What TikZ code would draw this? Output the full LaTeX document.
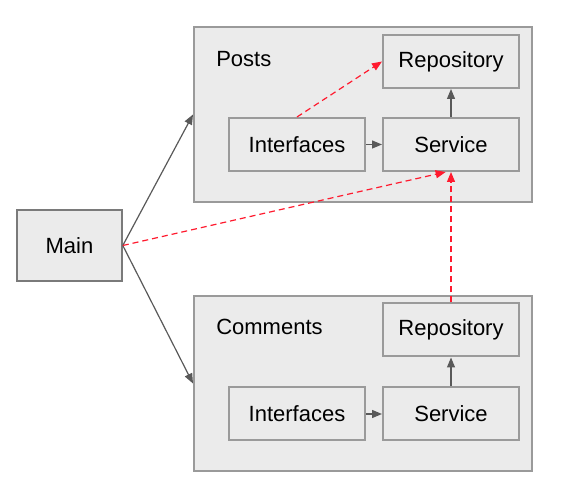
\documentclass[tikz,border=0pt]{standalone}
\usepackage{fontspec}
\setmainfont{Liberation Sans}
\usetikzlibrary{arrows.meta,calc}
\definecolor{boxfill}{HTML}{EBEBEB}
\definecolor{boxline}{HTML}{9A9A9A}
\definecolor{arrowc}{HTML}{595959}
\definecolor{redc}{HTML}{FF1A2E}
\tikzset{
  px/.style={x=0.75pt,y=-0.75pt},
  group/.style={draw=boxline,fill=boxfill,line width=1.5pt,minimum width=253.5pt,minimum height=131.25pt,inner sep=0pt},
  comp/.style={draw=boxline,fill=boxfill,line width=1.5pt,minimum width=102pt,minimum height=39.75pt,inner sep=0pt,font=\fontsize{16.5}{19}\selectfont},
  mainbox/.style={draw=arrowc!80,fill=boxfill,line width=1.2pt,minimum width=78.75pt,minimum height=53.25pt,inner sep=0pt,font=\fontsize{16.5}{19}\selectfont},
  glabel/.style={anchor=base west,inner sep=0pt,font=\fontsize{16.5}{19}\selectfont},
  solidarrow/.style={draw=arrowc,line width=0.9pt,-{Triangle[length=7.5pt,width=6pt]}},
  redarrow/.style={draw=redc,line width=0.9pt,dash pattern=on 4.5pt off 3pt,-{Triangle[length=7.5pt,width=6pt]},redc},
}
\begin{document}
\begin{tikzpicture}[px]
\useasboundingbox (0,0) rectangle (564,491);
\node[group] (posts) at (363,114.5) {};
\node[group] (comments) at (363,383.5) {};
\node[glabel] (postslbl) at (216,67) {Posts};
\node[glabel] (commentslbl) at (216,335) {Comments};
\node[comp] (r1) at (451,61.5) {Repository};
\node[comp] (i1) at (297,144.5) {Interfaces};
\node[comp] (s1) at (451,144.5) {Service};
\node[comp] (r2) at (451,330) {Repository};
\node[comp] (i2) at (297,414) {Interfaces};
\node[comp] (s2) at (451,414) {Service};
\node[mainbox] (main) at (69.5,245.5) {Main};
\draw[solidarrow] (main.east) -- (posts.west);
\draw[solidarrow] (main.east) -- (comments.west);
\draw[solidarrow] (i1) -- (s1);
\draw[solidarrow] (s1) -- (r1);
\draw[solidarrow] (i2) -- (s2);
\draw[solidarrow] (s2) -- (r2);
\draw[redarrow] (main.east) -- ([xshift=-4pt]s1.south);
\draw[redarrow] (i1.north) -- (r1.west);
\draw[redarrow] (r2.north) -- (s1.south);
\end{tikzpicture}
\end{document}
